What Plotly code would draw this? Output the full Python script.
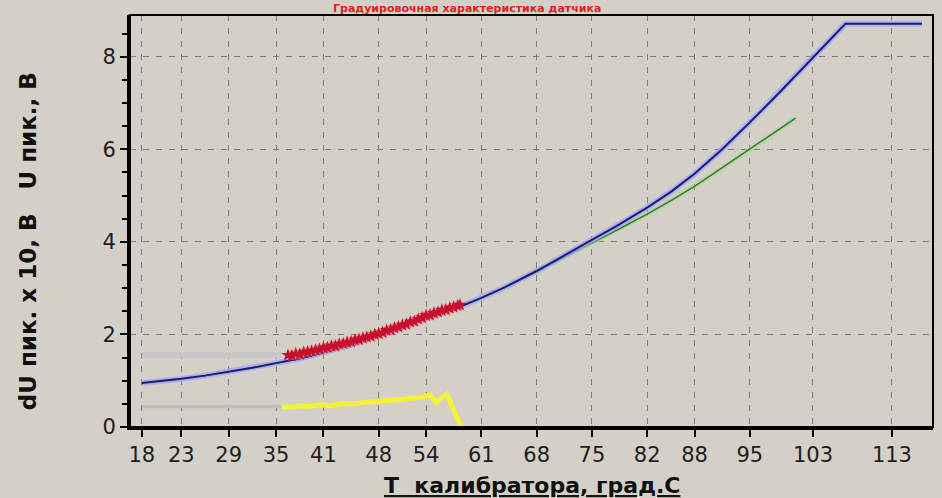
import plotly.graph_objects as go

# Temperature axis ticks (calibrator, deg C)
x_ticks = [18, 23, 29, 35, 41, 48, 54, 61, 68, 75, 82, 88, 95, 103, 113]
y_ticks = [0, 2, 4, 6, 8]

# U peak, V  (blue)
u_t = [18, 20, 23, 26, 29, 32, 35, 38, 41, 44, 48, 51, 54, 58, 61, 64, 68, 71,
       75, 78, 82, 85, 88, 91.5, 95, 99, 103, 107.1, 116.8]
u_v = [0.95, 0.98, 1.04, 1.11, 1.19, 1.28, 1.38, 1.48, 1.61, 1.75, 1.97, 2.15,
       2.34, 2.58, 2.79, 3.02, 3.37, 3.65, 4.04, 4.33, 4.74, 5.08, 5.47, 6.00,
       6.58, 7.27, 7.97, 8.71, 8.71]

# Reference calibration curve (green)
g_t = [18, 20, 23, 26, 29, 32, 35, 38, 41, 44, 48, 51, 54, 58, 61, 64, 68, 71,
       75, 78, 82, 85, 88, 91, 95, 98, 100.8]
g_v = [0.95, 0.98, 1.04, 1.11, 1.19, 1.28, 1.38, 1.48, 1.61, 1.75, 1.97, 2.15,
       2.34, 2.58, 2.79, 3.02, 3.36, 3.62, 3.97, 4.24, 4.60, 4.89, 5.20, 5.54,
       6.00, 6.35, 6.67]

# Measured points (red)
m_t = [36.5, 37.0, 37.5, 38.0, 38.5, 39.0, 39.5, 40.0, 40.5, 41.0, 41.5, 42.0,
       42.5, 43.0, 43.5, 44.0, 44.5, 45.0, 45.5, 46.0, 46.5, 47.0, 47.5, 48.0,
       48.5, 49.0, 49.5, 50.0, 50.5, 51.0, 51.5, 52.0, 52.5, 53.0, 53.5, 54.0,
       54.5, 55.0, 55.5, 56.0, 56.5, 57.0, 57.5, 58.0, 58.3]
m_v = [1.55, 1.54, 1.58, 1.57, 1.61, 1.62, 1.64, 1.66, 1.68, 1.71, 1.72, 1.75,
       1.75, 1.79, 1.80, 1.83, 1.84, 1.88, 1.89, 1.92, 1.94, 1.96, 2.00, 2.02,
       2.04, 2.09, 2.10, 2.14, 2.16, 2.20, 2.22, 2.27, 2.28, 2.33, 2.36, 2.41,
       2.42, 2.46, 2.48, 2.52, 2.53, 2.57, 2.59, 2.62, 2.64]

# dU peak x 10, V (yellow)
d_t = [35.7, 37, 38, 39, 40, 41, 42, 43, 44, 45, 46, 47, 48, 49, 50, 51, 52, 53,
       54, 54.5, 55.3, 56.6, 58.5]
d_v = [0.44, 0.43, 0.46, 0.44, 0.47, 0.48, 0.46, 0.50, 0.51, 0.50, 0.53, 0.54,
       0.57, 0.56, 0.59, 0.60, 0.62, 0.63, 0.67, 0.70, 0.53, 0.71, 0.0]

# Previous-level markers (grey)
p_t = [18, 35.7]
p_u = [1.55, 1.55]
p_d = [0.44, 0.44]

BG = "#d4d0c8"
FONT = "DejaVu Sans"

fig = go.Figure()

fig.add_trace(go.Scatter(x=p_t, y=p_u, mode="lines",
                         line=dict(color="#c6c6c6", width=6)))
fig.add_trace(go.Scatter(x=p_t, y=p_d, mode="lines",
                         line=dict(color="#bcbcbc", width=3)))

# green with soft halo
fig.add_trace(go.Scatter(x=g_t, y=g_v, mode="lines",
                         line=dict(color="rgba(170,215,150,0.6)", width=5)))
fig.add_trace(go.Scatter(x=g_t, y=g_v, mode="lines",
                         line=dict(color="#2f7d2f", width=1.5)))

# blue with lavender halo
fig.add_trace(go.Scatter(x=u_t, y=u_v, mode="lines",
                         line=dict(color="rgba(165,165,245,0.75)", width=6)))
fig.add_trace(go.Scatter(x=u_t, y=u_v, mode="lines",
                         line=dict(color="#1c1c78", width=2)))

# red measured points
fig.add_trace(go.Scatter(x=m_t, y=m_v, mode="lines",
                         line=dict(color="rgba(245,150,150,0.7)", width=10)))
fig.add_trace(go.Scatter(x=m_t, y=m_v, mode="markers",
                         marker=dict(symbol="star", size=10, color="#c8102e",
                                     line=dict(width=0))))

# yellow dU
fig.add_trace(go.Scatter(x=d_t, y=d_v, mode="lines",
                         line=dict(color="#f2f23a", width=5)))

grid = dict(showgrid=True, gridcolor="#7c7c7c", gridwidth=1, griddash="6px,7px",
            zeroline=False, showline=True, linecolor="black", linewidth=3,
            ticks="outside", tickcolor="black", tickwidth=1.5,
            tickfont=dict(family=FONT, size=21, color="#1e1e1e"))

fig.update_xaxes(range=[16.5, 118.2], tickvals=x_ticks,
                 ticktext=[str(v) for v in x_ticks], ticklen=7, **grid)
fig.update_yaxes(range=[0, 8.9], tickvals=y_ticks, ticklen=7,
                 minor=dict(dtick=0.5, ticks="outside", ticklen=5,
                            tickcolor="black", showgrid=False),
                 **grid)

# top / right frame
fig.add_shape(type="rect", xref="paper", yref="paper", x0=0, x1=1, y0=0, y1=1,
              line=dict(color="black", width=2))

fig.add_annotation(text="<u><b>Т\u00a0\u00a0калибратора, град.С</b></u>",
                   xref="paper", yref="paper", x=0.5, y=-0.1408,
                   xanchor="center", yanchor="middle", showarrow=False,
                   font=dict(family=FONT, size=22, color="#111111"))

fig.add_annotation(text="<b>dU пик. х 10, В\u00a0\u00a0\u00a0U пик., В</b>",
                   xref="paper", yref="paper", x=0, xshift=-102, y=0.451,
                   xanchor="center", yanchor="middle", textangle=-90,
                   showarrow=False,
                   font=dict(family=FONT, size=23, color="#111111"))

fig.add_annotation(text="<b>Градуировочная характеристика датчика</b>",
                   xref="paper", yref="paper", x=0.42, y=1.0364,
                   xanchor="center", yanchor="top", showarrow=False,
                   font=dict(family=FONT, size=11, color="#e02020"))

fig.update_layout(width=942, height=498, showlegend=False,
                  paper_bgcolor=BG, plot_bgcolor=BG,
                  margin=dict(l=130, r=9, t=15, b=71))

fig.write_html("out.html")
